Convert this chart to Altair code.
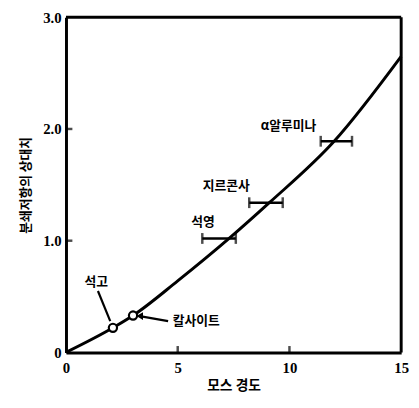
import altair as alt
import pandas as pd

# Main curve (Mohs hardness vs relative grinding resistance)
curve_x = [0, 2.1, 3.0, 5.0, 7.3, 9.1, 12.0, 15.0]
curve_y = [0, 0.22, 0.33, 0.64, 1.02, 1.34, 1.89, 2.65]

# Open-circle points (gypsum, calcite)
circle_x = [2.1, 3.0]
circle_y = [0.22, 0.33]

# Horizontal range bars (quartz, zircon, alpha-alumina)
bar_lo = [6.1, 8.2, 11.4]
bar_hi = [7.6, 9.7, 12.8]
bar_y = [1.02, 1.34, 1.89]

# Labels
center_labels = ["석고", "석영", "지르콘사", "α알루미나"]
center_lx = [1.35, 6.13, 7.17, 9.96]
center_ly = [0.63, 1.17, 1.49, 2.03]
left_labels = ["칼사이트"]
left_lx = [4.78]
left_ly = [0.28]

# Leader lines (gypsum, calcite)
lead_x1 = [1.43, 4.57]
lead_y1 = [0.55, 0.28]
lead_x2 = [1.98, 3.3]
lead_y2 = [0.28, 0.325]

# Inward axis ticks
xtick_vals = [5, 10]
ytick_vals = [1, 2]

X_MAX = 15
Y_MAX = 3

KR = "Noto Sans CJK KR"
NUM = "Liberation Serif"

xs = alt.Scale(domain=[0, X_MAX], nice=False, zero=True)
ys = alt.Scale(domain=[0, Y_MAX], nice=False, zero=True)

xaxis = alt.Axis(values=[0, 5, 10, 15], title="모스 경도", grid=False, domain=True,
                 domainColor="black", domainWidth=3,
                 tickSize=0, labelFont=NUM, labelFontSize=15, labelFontWeight="bold",
                 labelColor="black", labelPadding=8, labelFlush=False,
                 titleFont=KR, titleFontSize=14, titleFontWeight="bold",
                 titleColor="black", titlePadding=4)
yaxis = alt.Axis(values=[0, 1, 2, 3], title="분쇄저항의 상대치", grid=False, domain=True,
                 domainColor="black", domainWidth=3,
                 tickSize=0, labelFont=NUM, labelFontSize=15, labelFontWeight="bold",
                 labelColor="black", labelPadding=5, labelFlush=False,
                 labelExpr="datum.value == 0 ? '0' : format(datum.value, '.1f')",
                 titleFont=KR, titleFontSize=13, titleFontWeight="bold",
                 titleColor="black", titlePadding=10)

curve_df = pd.DataFrame({"x": curve_x, "y": curve_y})
curve = alt.Chart(curve_df).mark_line(color="black", strokeWidth=3,
                                      interpolate="monotone").encode(
    x=alt.X("x:Q", scale=xs, axis=xaxis),
    y=alt.Y("y:Q", scale=ys, axis=yaxis),
)

# Top and right frame lines
top = alt.Chart().mark_rule(color="black", strokeWidth=3).encode(
    x=alt.datum(0, scale=xs), x2=alt.datum(X_MAX), y=alt.datum(Y_MAX, scale=ys))
right = alt.Chart().mark_rule(color="black", strokeWidth=3).encode(
    x=alt.datum(X_MAX, scale=xs), y=alt.datum(0, scale=ys), y2=alt.datum(Y_MAX))

bars_df = pd.DataFrame({"lo": bar_lo, "hi": bar_hi, "y": bar_y})
bars = alt.Chart(bars_df).mark_rule(color="black", strokeWidth=2.5).encode(
    x=alt.X("lo:Q", scale=xs), x2="hi:Q", y=alt.Y("y:Q", scale=ys))
caps_df = pd.DataFrame({"x": bar_lo + bar_hi, "y": bar_y + bar_y})
caps = alt.Chart(caps_df).mark_tick(color="black", orient="vertical", size=11,
                                    thickness=2.5).encode(
    x=alt.X("x:Q", scale=xs), y=alt.Y("y:Q", scale=ys))

lead_df = pd.DataFrame({"x1": lead_x1, "y1": lead_y1, "x2": lead_x2, "y2": lead_y2})
leads = alt.Chart(lead_df).mark_rule(color="black", strokeWidth=2.2).encode(
    x=alt.X("x1:Q", scale=xs), y=alt.Y("y1:Q", scale=ys), x2="x2:Q", y2="y2:Q")
arrow = alt.Chart(pd.DataFrame({"x": [lead_x2[1]], "y": [lead_y2[1]]})).mark_point(
    shape="triangle-left", filled=True, color="black", size=60, opacity=1).encode(
    x=alt.X("x:Q", scale=xs), y=alt.Y("y:Q", scale=ys))

circ_df = pd.DataFrame({"x": circle_x, "y": circle_y})
circles = alt.Chart(circ_df).mark_point(shape="circle", filled=True, fill="white",
                                        stroke="black", strokeWidth=2.2, size=70,
                                        opacity=1).encode(
    x=alt.X("x:Q", scale=xs), y=alt.Y("y:Q", scale=ys))

ctext = alt.Chart(pd.DataFrame({"t": center_labels, "x": center_lx, "y": center_ly})).mark_text(
    font=KR, fontSize=13, fontWeight="bold", color="black", align="center",
    baseline="middle").encode(x=alt.X("x:Q", scale=xs), y=alt.Y("y:Q", scale=ys), text="t:N")
ltext = alt.Chart(pd.DataFrame({"t": left_labels, "x": left_lx, "y": left_ly})).mark_text(
    font=KR, fontSize=13, fontWeight="bold", color="black", align="left",
    baseline="middle").encode(x=alt.X("x:Q", scale=xs), y=alt.Y("y:Q", scale=ys), text="t:N")

xt = alt.Chart(pd.DataFrame({"x": xtick_vals, "y": [0] * len(xtick_vals)})).mark_tick(
    color="black", orient="vertical", size=7, thickness=2.5, yOffset=-3).encode(
    x=alt.X("x:Q", scale=xs), y=alt.Y("y:Q", scale=ys))
yt = alt.Chart(pd.DataFrame({"x": [0] * len(ytick_vals), "y": ytick_vals})).mark_tick(
    color="black", orient="horizontal", size=7, thickness=2.5, xOffset=3).encode(
    x=alt.X("x:Q", scale=xs), y=alt.Y("y:Q", scale=ys))

chart = alt.layer(curve, top, right, bars, caps, leads, arrow, circles, ctext, ltext,
                  xt, yt).properties(
    width=341, height=341,
    autosize=alt.AutoSizeParams(type="none"),
    padding={"left": 59, "top": 6, "right": 10, "bottom": 45},
    background="white",
).configure_view(stroke=None)

chart.save("out.html", embed_options={"renderer": "svg", "actions": False})
